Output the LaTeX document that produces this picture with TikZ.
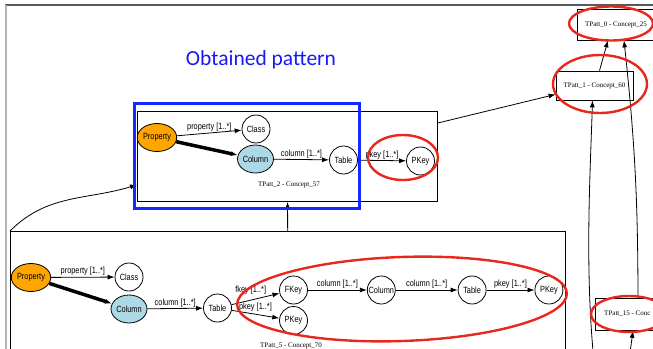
\documentclass[tikz,border=0pt]{standalone}
\usepackage{fontspec}
\setmainfont{Liberation Serif}
\setsansfont{Liberation Sans}
\newfontfamily\slidefont{Carlito}
\newfontfamily\narrowsans[FakeStretch=0.82]{Liberation Sans}
\usetikzlibrary{arrows.meta,positioning,shapes.geometric}

\definecolor{markred}{RGB}{232,40,28}
\definecolor{foundblue}{RGB}{20,40,255}
\definecolor{titleblue}{RGB}{25,25,245}
\definecolor{proporange}{RGB}{255,165,0}
\definecolor{colblue}{RGB}{173,216,230}

\begin{document}
\begin{tikzpicture}[->,>={Latex[length=7pt,width=5pt]},thick,x=1pt,y=1pt,
                class node/.style={circle,draw,minimum size=28pt,inner sep=0pt,font=\narrowsans\fontsize{9}{10}\selectfont},
                prop node/.style={ellipse,draw,fill=proporange,minimum width=38pt,minimum height=28pt,inner sep=0pt,font=\narrowsans\fontsize{9}{10}\selectfont},
                col node/.style={ellipse,draw,fill=colblue,minimum width=33pt,minimum height=28pt,inner sep=0pt,font=\narrowsans\fontsize{9}{10}\selectfont},
                concept box/.style={draw,rectangle,inner sep=0pt},
                concept label/.style={font=\rmfamily\fontsize{7}{8}\selectfont},
                edge label/.style={font=\narrowsans\fontsize{9}{10}\selectfont,above,inner sep=1pt},
                red mark/.style={ellipse,draw=markred,line width=2.4pt,inner sep=0pt}]

  \useasboundingbox (0,0) rectangle (653,-348);
  \clip (0,0) rectangle (653,-348);

  % slide frame
  \draw[-,line width=1.5pt,gray!70!black] (5,-5) -- (660,-5);
  \draw[-,line width=1.5pt,gray!60] (6,-5) -- (6,-360);

  \node[font=\slidefont\fontsize{21.5}{24}\selectfont,text=titleblue] (title) at (261,-60) {Obtained pattern};

  % TPatt_2
  \node[concept box,minimum width=300pt,minimum height=90pt,anchor=north west] (c2) at (137,-111) {};
  \node[concept label] (c2lbl) at (289,-185) {TPatt\_2 - Concept\_57};
  \node[prop node] (propA) at (157,-137.5) {Property};
  \node[class node] (classA) at (256,-129) {Class};
  \node[col node] (colA) at (255.5,-159) {Column};
  \node[class node] (tableA) at (343.5,-160) {Table};
  \node[class node] (pkeyA) at (420.5,-161) {PKey};

  \path
    (propA) edge node[edge label] {property [1..*]} (classA)
            edge [line width=3.5pt] (colA)
    (colA) edge node[edge label] {column [1..*]} (tableA)
    (tableA) edge node[edge label] {pkey [1..*]} (pkeyA);

  % TPatt_5
  \node[concept box,minimum width=555pt,minimum height=140pt,anchor=north west] (c5) at (10,-231) {};
  \node[concept label] (c5lbl) at (291,-346) {TPatt\_5 - Concept\_70};
  \node[prop node] (propB) at (31,-277.5) {Property};
  \node[class node] (classB) at (129,-277) {Class};
  \node[col node] (colB) at (129,-309) {Column};
  \node[class node] (tableB) at (217.5,-308) {Table};
  \node[class node] (fkeyB) at (293.5,-290) {FKey};
  \node[class node] (pkeyB) at (293.5,-320.5) {PKey};
  \node[class node,right=59pt of fkeyB] (colC) {Column};
  \node[class node,right=62pt of colC] (tableC) {Table};
  \node[class node,right=48pt of tableC] (pkeyC) {PKey};

  \path
    (propB) edge node[edge label] {property [1..*]} (classB)
            edge [line width=3.5pt] (colB)
    (colB) edge node[edge label] {column [1..*]} (tableB)
    (tableB) edge node[edge label,pos=0.4,above=4pt] {fkey [1..*]} (fkeyB)
             edge node[edge label,above=1pt] {pkey [1..*]} (pkeyB)
    (fkeyB) edge node[edge label] {column [1..*]} (colC)
    (colC) edge node[edge label] {column [1..*]} (tableC)
    (tableC) edge node[edge label] {pkey [1..*]} (pkeyC);

  % lattice on the right
  \node[concept box,minimum width=77pt,minimum height=29pt,concept label] (c1) at (594.5,-85.5) {TPatt\_1 - Concept\_60};
  \node[concept box,minimum width=78pt,minimum height=31pt,concept label] (c0) at (616,-24.5) {TPatt\_0 - Concept\_25};
  \node[concept box,minimum width=85pt,minimum height=32pt,anchor=north west] (c15) at (595,-298) {};
  \node[concept label,anchor=west] (c15lbl) at (600.5,-313.5) {TPatt\_15 - Conc};
  \coordinate (offA) at (596,-380);
  \coordinate (offB) at (629,-360);

  \draw (c5) -- (c2);
  \draw (c5.north west) to[out=45,in=197] ([yshift=17pt]c2.south west);
  \draw ([yshift=-12pt]c2.north east) -- ([yshift=6pt]c1.south west);
  \draw ([xshift=5pt]c1.north) -- ([xshift=-8pt]c0.south);
  \draw ([xshift=43pt]c15.north west) to[bend right=3] ([xshift=8pt]c0.south);
  \draw (offA) .. controls (584,-280) and (590,-180) .. ([xshift=-2pt]c1.south);
  \draw (offB) -- ([xshift=38pt]c15.south west);

  % obtained pattern and marks
  \node[draw=foundblue,line width=3pt,minimum width=225pt,minimum height=105pt,anchor=north west] (found) at (133,-102) {};
  \node[red mark,minimum width=70pt,minimum height=45pt] (markA) at (403,-157.5) {};
  \node[red mark,minimum width=330pt,minimum height=84pt,rotate=2] (markB) at (402,-299) {};
  \node[red mark,minimum width=84pt,minimum height=34pt] (markC) at (611,-23.5) {};
  \node[red mark,minimum width=94pt,minimum height=58pt] (markD) at (600,-84) {};
  \node[red mark,minimum width=76pt,minimum height=36pt] (markE) at (629,-314) {};
\end{tikzpicture}
\end{document}
